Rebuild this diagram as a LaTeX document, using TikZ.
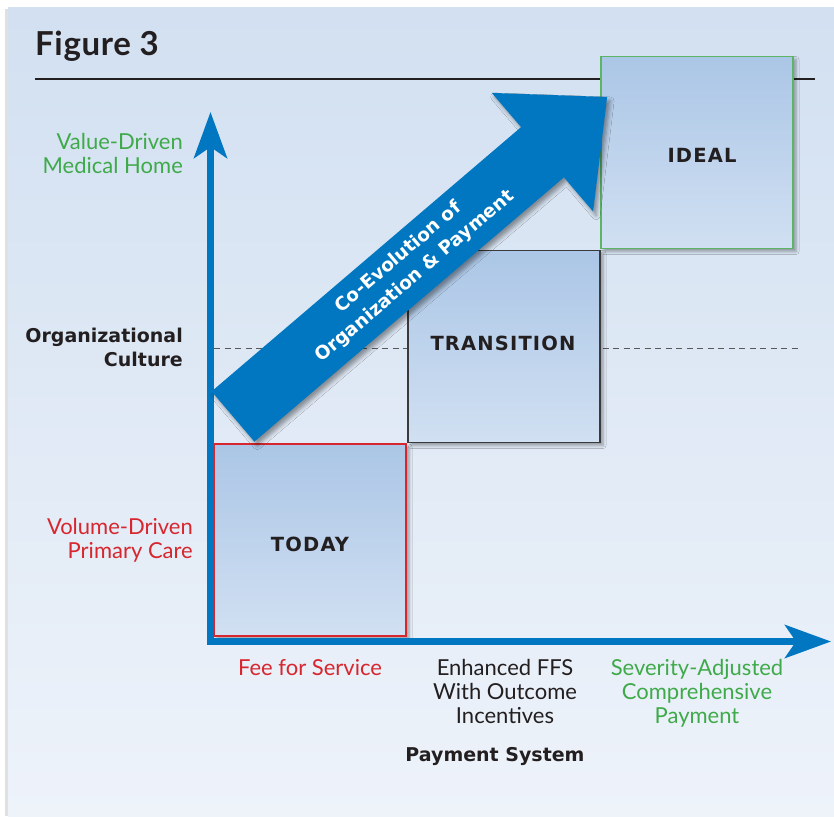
\documentclass[tikz,border=0pt]{standalone}
\usepackage{fontspec}
\setmainfont{Lato}
\newfontfamily\heavyfont{DejaVu Sans}
\usetikzlibrary{shadows.blur,arrows.meta}
\definecolor{axisblue}{HTML}{0077C0}
\definecolor{panelTop}{HTML}{D2E0F1}
\definecolor{panelBot}{HTML}{EEF3FA}
\definecolor{boxTop}{HTML}{ABC6E6}
\definecolor{boxBot}{HTML}{D1E0F2}
\definecolor{redTxt}{HTML}{D7262E}
\definecolor{greenTxt}{HTML}{3FAA4A}
\definecolor{greenBorder}{HTML}{5BB565}
\definecolor{darkTxt}{HTML}{231F20}
\definecolor{boxGray}{HTML}{3A3A3C}
\tikzset{axishead/.tip={Stealth[length=46pt, width=33pt, inset=11pt]}}
\begin{document}
\begin{tikzpicture}[x=1pt,y=-1pt,
  stage/.style={draw, line width=1.3pt, minimum width=192pt, minimum height=192pt, inner sep=0pt,
    top color=boxTop, bottom color=boxBot,
    blur shadow={shadow xshift=3pt, shadow yshift=-3pt, shadow blur radius=3pt, shadow opacity=35}},
  stagetxt/.style={font=\heavyfont\bfseries\fontsize{19.5}{22}\selectfont\addfontfeature{LetterSpace=6}, text=darkTxt, inner sep=0pt},
  reg/.style={font=\fontsize{22}{24}\selectfont, inner sep=0pt},
  heavy/.style={font=\heavyfont\bfseries\fontsize{19}{24}\selectfont, inner sep=0pt, text=darkTxt},
  axis/.style={axisblue, line width=7pt, line join=miter},
]
\useasboundingbox (0,0) rectangle (834,816);
% panel
\fill[black!12] (5,9) rectangle (9,816);
\shade[top color=panelTop, bottom color=panelBot] (8,8) rectangle (834,816);

% title and rule
\node[font=\bfseries\fontsize{33}{36}\selectfont\addfontfeature{LetterSpace=2}, text=darkTxt, anchor=base west, inner sep=0pt] (title) at (35,56) {Figure 3};
\coordinate (ruleL) at (35,79);
\coordinate (ruleR) at (815,79);
\draw[line width=1.1pt, darkTxt] (ruleL) -- (ruleR);

% dashed level line
\coordinate (dashL) at (214,348);
\coordinate (dashR) at (800,348);
\draw[dash pattern=on 6pt off 4.5pt, black!65, line width=0.9pt] (dashL) -- (dashR);

% stage boxes
\node[stage, draw=redTxt] (today) at (310,540) {};
\node[stage, draw=boxGray] (transition) at (504,346.5) {};
\node[stage, draw=greenBorder] (ideal) at (697,152.5) {};
\node[stagetxt] (todaytxt) at (310,544) {TODAY};
\node[stagetxt] (transtxt) at (503,343) {TRANSITION};
\node[stagetxt] (idealtxt) at (702,155) {IDEAL};

% axes
\coordinate (O) at (210.5,641.5);
\coordinate (ytip) at (210.5,112);
\coordinate (xtip) at (831,641.5);
\draw[axis, axishead-axishead] (ytip) -- (O) -- (xtip);

% big diagonal arrow
\fill[axisblue, blur shadow={shadow xshift=3pt, shadow yshift=-4pt, shadow blur radius=4pt, shadow opacity=40}]
  (211.6,391.4) -- (521.1,127.1) -- (491.8,92.9) -- (607.1,97.0) -- (593.1,211.5) -- (563.9,177.3) -- (254.4,441.6) -- cycle;
\node[font=\heavyfont\bfseries\fontsize{18.5}{25}\selectfont, text=white, align=center, rotate=40.5, inner sep=0pt] (coevo) at (407,267) {Co-Evolution of\\Organization \& Payment};

% y-axis labels
\node[reg, text=greenTxt, align=right, anchor=east] (valuedriven) at (183,153) {Value-Driven\\Medical Home};
\node[heavy, align=right, anchor=east] (orgculture) at (183,347) {Organizational\\Culture};
\node[reg, text=redTxt, align=right, anchor=east] (volumedriven) at (193,540) {Volume-Driven\\Primary Care};

% x-axis labels
\node[reg, text=redTxt, anchor=base] (ffs) at (310,675) {Fee for Service};
\node[reg, text=darkTxt, align=center, anchor=north] (enh) at (505,659) {Enhanced FFS\\With Outcome\\Incentives};
\node[reg, text=greenTxt, align=center, anchor=north] (sev) at (697,659) {Severity-Adjusted\\Comprehensive\\Payment};
\node[heavy, anchor=base] (paysys) at (495,761) {Payment System};
\end{tikzpicture}
\end{document}
